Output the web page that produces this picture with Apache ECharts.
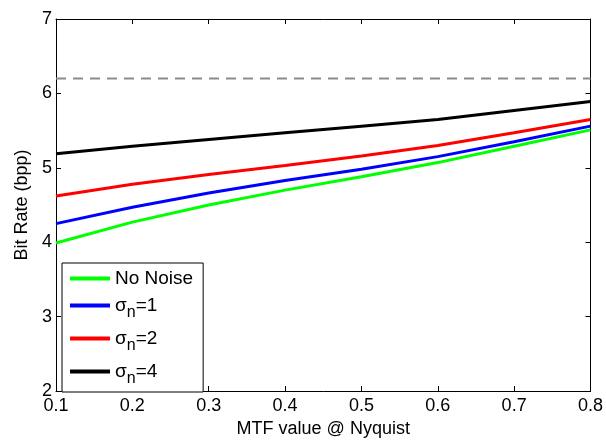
<!DOCTYPE html>
<html>
<head>
<meta charset="utf-8">
<script src="https://cdn.jsdelivr.net/npm/echarts@6/dist/echarts.min.js"></script>
<style>
  html, body { margin: 0; padding: 0; background: #fff; }
  #chart { width: 606px; height: 443px; }
</style>
</head>
<body>
<div id="chart"></div>
<script>
// =====================
// Data
// =====================
const MTF = [0.1, 0.2, 0.3, 0.4, 0.5, 0.6, 0.7, 0.8]

const NO_NOISE = [3.99, 4.27, 4.50, 4.70, 4.88, 5.07, 5.29, 5.51]
const SIGMA_1  = [4.25, 4.47, 4.66, 4.83, 4.98, 5.15, 5.35, 5.56]
const SIGMA_2  = [4.62, 4.78, 4.91, 5.03, 5.16, 5.30, 5.47, 5.65]
const SIGMA_4  = [5.19, 5.29, 5.38, 5.47, 5.56, 5.65, 5.77, 5.89]

const LIMIT = 6.2   // dashed reference line

const SERIES = [
  { name: "No Noise", data: NO_NOISE, color: "#00ff00" },
  { name: "s1",       data: SIGMA_1,  color: "#0000ff" },
  { name: "s2",       data: SIGMA_2,  color: "#ff0000" },
  { name: "s4",       data: SIGMA_4,  color: "#000000" }
]

const LEGEND_TEXT = {
  "No Noise": "{t|No Noise}",
  "s1": "{t|σ}{sub|n}{t|=1}",
  "s2": "{t|σ}{sub|n}{t|=2}",
  "s4": "{t|σ}{sub|n}{t|=4}"
}

const FONT = "Liberation Sans, Arial, Helvetica, sans-serif"

const pairs = ys => MTF.map((x, i) => [x, ys[i]])

// =====================
// Init chart
// =====================
const chart = echarts.init(document.getElementById("chart"))

const axisCommon = {
  axisLine: { show: true, lineStyle: { color: "#000", width: 1 } },
  axisTick: { show: true, inside: true, length: 5, lineStyle: { color: "#000" } },
  splitLine: { show: false }
}

const option = {
  animation: false,
  backgroundColor: "#fff",

  grid: { left: 56, right: 13, top: 19, bottom: 46 },

  legend: {
    orient: "vertical",
    left: 62,
    top: 263,
    width: 137,
    padding: [6, 10, 5, 8],
    itemGap: 8,
    itemWidth: 40,
    itemHeight: 4,
    icon: "rect",
    backgroundColor: "#fff",
    borderColor: "#000",
    borderWidth: 1,
    data: SERIES.map(s => s.name),
    formatter: n => LEGEND_TEXT[n],
    textStyle: {
      rich: {
        t:   { fontFamily: FONT, fontSize: 19, color: "#000" },
        sub: { fontFamily: FONT, fontSize: 16, color: "#000", padding: [15, 0, 0, 0] }
      }
    }
  },

  xAxis: [
    {
      ...axisCommon,
      type: "value",
      min: 0.1, max: 0.8, interval: 0.1,
      name: "MTF value @ Nyquist",
      nameLocation: "middle",
      nameGap: 29,
      nameTextStyle: { fontFamily: FONT, fontSize: 18, color: "#000" },
      axisLabel: { fontFamily: FONT, fontSize: 18, color: "#000", margin: 6 }
    },
    {
      ...axisCommon,
      type: "value", position: "top",
      min: 0.1, max: 0.8, interval: 0.1,
      axisLabel: { show: false }
    }
  ],

  yAxis: [
    {
      ...axisCommon,
      type: "value",
      min: 2, max: 7, interval: 1,
      name: "Bit Rate (bpp)",
      nameLocation: "middle",
      nameGap: 23,
      nameTextStyle: { fontFamily: FONT, fontSize: 18, color: "#000" },
      axisLabel: { fontFamily: FONT, fontSize: 18, color: "#000", margin: 4 }
    },
    {
      ...axisCommon,
      type: "value", position: "right",
      min: 2, max: 7, interval: 1,
      axisLabel: { show: false }
    }
  ],

  series: [
    {
      name: "limit",
      type: "line",
      data: pairs(MTF.map(() => LIMIT)),
      showSymbol: false,
      symbol: "none",
      lineStyle: { color: "#8c8c8c", width: 2, type: [10, 7] },
      silent: true
    },
    ...SERIES.map(s => ({
      name: s.name,
      type: "line",
      data: pairs(s.data),
      symbol: "none",
      color: s.color,
      lineStyle: { color: s.color, width: 3 }
    }))
  ]
}

chart.setOption(option)
</script>
</body>
</html>
